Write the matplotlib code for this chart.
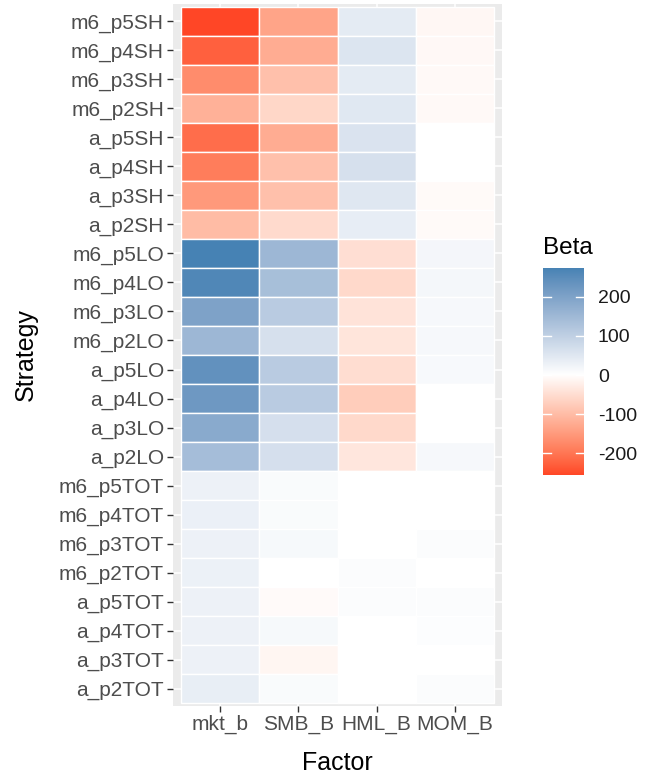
import numpy as np
import matplotlib
matplotlib.use("Agg")
import matplotlib.pyplot as plt
from matplotlib.colors import ListedColormap, Normalize

plt.rcParams['font.family'] = ['Liberation Sans', 'DejaVu Sans']

factors = ["mkt_b", "SMB_B", "HML_B", "MOM_B"]
# top to bottom as drawn
strategies = ["m6_p5SH", "m6_p4SH", "m6_p3SH", "m6_p2SH",
              "a_p5SH", "a_p4SH", "a_p3SH", "a_p2SH",
              "m6_p5LO", "m6_p4LO", "m6_p3LO", "m6_p2LO",
              "a_p5LO", "a_p4LO", "a_p3LO", "a_p2LO",
              "m6_p5TOT", "m6_p4TOT", "m6_p3TOT", "m6_p2TOT",
              "a_p5TOT", "a_p4TOT", "a_p3TOT", "a_p2TOT"]

mkt_b = [-256, -228, -172, -118, -212, -192, -152, -102,
         274, 262, 200, 152, 238, 222, 182, 140,
         28, 30, 28, 29, 28, 28, 28, 36]
smb_b = [-138, -126, -96, -62, -126, -96, -96, -56,
         152, 136, 110, 64, 110, 110, 66, 66,
         9, 9, 13, 0, -7, 13, -14, 9]
hml_b = [42, 54, 42, 48, 58, 64, 50, 38,
         -50, -58, -42, -40, -52, -76, -58, -38,
         0, 0, 0, 7, 6, 0, 0, 0]
mom_b = [-12, -10, -9, -9, 0, 0, -8, -8,
         18, 17, 14, 14, 12, 0, 0, 14,
         0, 0, 6, 0, 6, 5, 0, 6]

legend_ticks = [200, 100, 0, -100, -200]


# ggplot-like gradient2 (interpolation in CIELAB)
def srgb_to_lab(rgb):
    rgb = np.asarray(rgb, float)
    lin = np.where(rgb <= 0.04045, rgb / 12.92, ((rgb + 0.055) / 1.055) ** 2.4)
    M = np.array([[0.4124, 0.3576, 0.1805],
                  [0.2126, 0.7152, 0.0722],
                  [0.0193, 0.1192, 0.9505]])
    xyz = M @ lin / np.array([0.95047, 1.0, 1.08883])
    f = np.where(xyz > 0.008856, np.cbrt(xyz), 7.787 * xyz + 16 / 116)
    return np.array([116 * f[1] - 16, 500 * (f[0] - f[1]), 200 * (f[1] - f[2])])


def lab_to_srgb(lab):
    L, a, b = lab
    fy = (L + 16) / 116
    fx = fy + a / 500
    fz = fy - b / 200
    f = np.array([fx, fy, fz])
    xyz = np.where(f ** 3 > 0.008856, f ** 3, (f - 16 / 116) / 7.787)
    xyz = xyz * np.array([0.95047, 1.0, 1.08883])
    Minv = np.array([[3.2406, -1.5372, -0.4986],
                     [-0.9689, 1.8758, 0.0415],
                     [0.0557, -0.2040, 1.0570]])
    lin = Minv @ xyz
    rgb = np.where(lin <= 0.0031308, 12.92 * lin, 1.055 * np.clip(lin, 0, None) ** (1 / 2.4) - 0.055)
    return np.clip(rgb, 0, 1)


low = srgb_to_lab(np.array([255, 50, 22]) / 255)
mid = srgb_to_lab([1.0, 1.0, 1.0])
high = srgb_to_lab(np.array([70, 130, 180]) / 255)
cols = []
for s in np.linspace(0, 1, 512):
    if s < 0.5:
        t = s / 0.5
        lab = low * (1 - t) + mid * t
    else:
        t = (s - 0.5) / 0.5
        lab = mid * (1 - t) + high * t
    cols.append(lab_to_srgb(lab))
cmap = ListedColormap(cols)

data = np.array([mkt_b, smb_b, hml_b, mom_b]).T
vmin, vmax = data.min(), data.max()
m = max(abs(vmin), abs(vmax))
norm = Normalize(-m, m)

fig = plt.figure(figsize=(6.52, 7.78), dpi=100)
ax = fig.add_axes([173 / 652, 1 - 706 / 778, 329 / 652, 702 / 778])
ax.set_facecolor("#EBEBEB")
n = len(strategies)
for i, s in enumerate(strategies):
    y = n - i
    for j in range(len(factors)):
        ax.add_patch(plt.Rectangle((j + 0.5, y - 0.5), 1, 1,
                                   facecolor=cmap(norm(data[i, j])),
                                   edgecolor="white", linewidth=1.0, zorder=3))
ax.set_xlim(0.4, len(factors) + 0.6)
ax.set_ylim(0.4, n + 0.6)
ax.set_xticks(np.arange(1, len(factors) + 1))
ax.set_xticklabels(factors)
ax.set_yticks(np.arange(n, 0, -1))
ax.set_yticklabels(strategies)
ax.grid(True, color="white", linewidth=1.1, zorder=0)
ax.set_axisbelow(True)
for sp in ax.spines.values():
    sp.set_visible(False)
ax.tick_params(axis="both", colors="#333333", labelcolor="#4D4D4D",
               labelsize=15, length=4.5, width=1, pad=2)
fig.text(337 / 652, 1 - 763 / 778, "Factor", fontsize=18, ha="center", va="center")
fig.text(26 / 652, 1 - 355 / 778, "Strategy", fontsize=18, ha="center", va="center",
         rotation=90)

# colour bar legend
cax = fig.add_axes([543 / 652, 1 - 475 / 778, 41 / 652, 207 / 778])
vals = np.linspace(vmin, vmax, 400).reshape(-1, 1)
cax.imshow(vals, cmap=cmap, norm=norm, aspect="auto", origin="lower",
           extent=[0, 1, vmin, vmax])
cax.set_xlim(0, 1)
cax.set_ylim(vmin, vmax)
for tv in legend_ticks:
    cax.plot([0, 0.2], [tv, tv], color="white", lw=1)
    cax.plot([0.8, 1], [tv, tv], color="white", lw=1)
cax.set_xticks([])
cax.yaxis.tick_right()
cax.set_yticks(legend_ticks)
cax.set_yticklabels([str(t) for t in legend_ticks])
cax.tick_params(axis="y", length=0, pad=10, labelsize=14, labelcolor="#1A1A1A")
for sp in cax.spines.values():
    sp.set_visible(False)
fig.text(543 / 652, 1 - 248 / 778, "Beta", fontsize=17.5, ha="left", va="center")

fig.savefig("out.png", dpi=100)
